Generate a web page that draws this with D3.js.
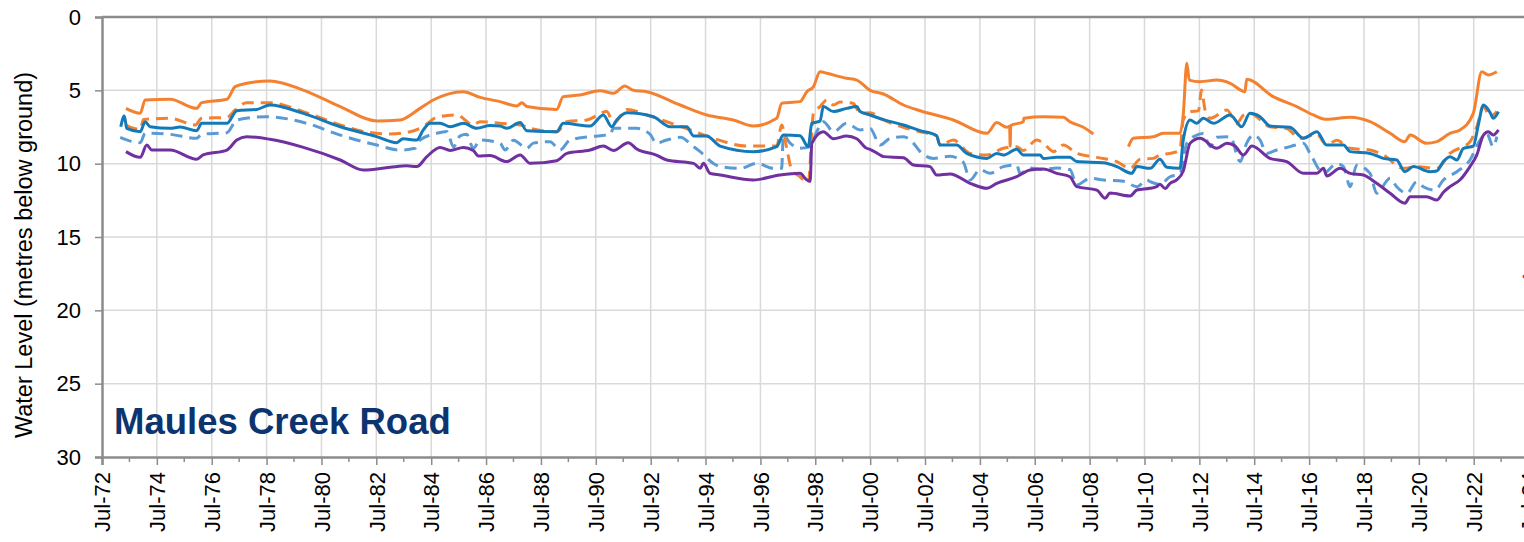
<!DOCTYPE html>
<html lang="en">
<head>
  <meta charset="UTF-8">
  <title>Maules Creek Road water levels</title>
  <script src="https://d3js.org/d3.v7.min.js"></script>
  <style>
    body { margin: 0; background: #fff; }
    svg { display: block; }
  </style>
</head>
<body>
  <svg id="chart"></svg>

  <script>
    // bore series, [decimal year, metres below ground]
    const orangeSolid = [
      [1973.37,6.23],[1973.89,6.57],[1974.07,5.66],[1974.98,5.61],[1975.95,6.23],[1976.13,5.84],
      [1977.05,5.61],[1977.35,4.75],[1977.77,4.52],[1978.62,4.36],[1979.83,4.98],[1981.18,6.11],
      [1982.51,7.09],[1983.36,7.02],[1984.09,6.23],[1984.57,5.66],[1985.66,5.09],[1986.28,5.48],
      [1987.01,5.77],[1987.62,6.07],[1987.80,5.84],[1987.98,6.1],[1989.07,6.3],[1989.31,5.43],
      [1989.92,5.32],[1990.65,5.02],[1991.14,5.2],[1991.56,4.7],[1991.86,5.0],[1992.35,5.09],
      [1993.57,6.0],[1994.54,6.68],[1995.51,7.02],[1996.24,7.43],[1997.09,6.91],[1997.27,5.89],
      [1997.45,5.84],[1997.94,5.77],[1998.19,5.09],[1998.43,4.75],[1998.67,3.73],[1998.92,3.84],
      [1999.64,4.18],[2000.01,4.3],[2000.49,5.0],[2000.98,5.25],[2001.71,6.0],[2002.32,6.39],
      [2003.53,7.02],[2004.75,7.93],[2005.11,7.2],[2005.48,7.52],[2005.58,7.45],[2005.60,8.8],
      [2005.62,7.4],[2006.08,7.14],[2006.10,6.9],[2006.81,6.8],[2007.54,6.84],[2007.78,7.14],
      [2008.27,7.52],[2008.63,7.98],[2009.2,null],[2009.91,8.84],[2010.09,8.27],[2010.82,8.16],
      [2011.18,7.93],[2011.79,7.93],[2011.91,6.68],[2012.04,3.16],[2012.13,4.3],[2012.52,4.41],
      [2013.13,4.3],[2013.62,4.52],[2014.16,5.09],[2014.22,4.25],[2015.19,5.43],[2016.05,6.11],
      [2016.65,6.68],[2017.14,6.98],[2017.99,6.84],[2018.72,7.14],[2019.45,7.93],[2019.99,8.5],
      [2020.18,8.05],[2020.78,8.61],[2021.15,8.5],[2021.63,7.93],[2022.0,7.7],[2022.48,6.57],
      [2022.79,3.73],[2023.03,3.95],[2023.34,3.73]
    ];

    const orangeDashed = [
      [1973.37,7.36],[1973.64,7.59],[1973.89,7.65],[1974.01,6.98],[1974.98,6.91],[1975.9,7.36],
      [1976.13,6.91],[1977.05,6.84],[1977.35,6.34],[1977.77,5.84],[1978.62,5.84],[1979.83,6.45],
      [1981.18,7.36],[1981.78,7.7],[1983.0,7.98],[1983.73,7.82],[1984.2,7.48],[1984.7,6.84],
      [1985.43,6.68],[1986.02,7.36],[1986.28,7.14],[1987.01,7.25],[1987.74,7.36],[1988.1,7.59],
      [1989.07,7.82],[1989.44,7.14],[1990.17,7.02],[1990.9,6.45],[1991.14,7.25],[1991.63,6.3],
      [1992.35,6.68],[1993.08,7.14],[1993.93,7.7],[1994.78,8.27],[1996.0,8.8],[1997.09,8.8],
      [1997.27,7.36],[1997.45,8.9],[1997.64,10.43],[1997.94,10.89],[1998.24,11.34],[1998.43,6.57],
      [1998.67,6.11],[1998.92,5.66],[1999.16,6.0],[1999.4,5.8],[1999.89,5.9],[2000.13,6.57],
      [2000.49,6.52],[2000.98,7.02],[2001.71,7.52],[2002.32,7.82],[2002.92,8.1],[2003.04,8.73],
      [2003.53,8.39],[2004.14,9.3],[2004.75,9.41],[2005.35,8.95],[2005.84,8.84],[2006.08,9.1],
      [2006.57,8.39],[2006.81,8.6],[2007.18,9.18],[2007.54,8.73],[2008.03,9.3],[2008.76,9.57],
      [2009.49,9.86],[2009.97,10.32],[2010.34,9.7],[2010.82,9.64],[2011.06,9.41],[2011.43,9.3],
      [2011.79,9.07],[2011.91,7.02],[2012.16,6.45],[2012.46,6.4],[2012.58,4.98],[2012.70,6.3],
      [2012.89,6.91],[2013.5,6.34],[2013.86,7.25],[2014.1,6.7],[2014.34,6.57],[2015.07,7.48],
      [2015.68,7.6],[2016.17,8.27],[2016.78,8.0],[2017.14,8.73],[2017.5,8.4],[2017.99,8.95],
      [2018.72,9.07],[2019.2,9.4],[2019.93,10.32],[2020.42,10.2],[2021.15,10.32],[2021.63,9.3],
      [2022.36,8.5],[2022.61,7.48],[2022.85,6.11],[2023.09,6.8],[2023.34,6.45]
    ];

    const blueSolid = [
      [1973.18,7.48],[1973.31,6.75],[1973.4,7.6],[1973.89,7.82],[1974.07,7.14],[1974.25,7.48],
      [1974.98,7.59],[1975.34,7.5],[1975.95,7.75],[1976.13,7.25],[1977.05,7.25],[1977.41,6.39],
      [1978.14,6.3],[1978.62,6.0],[1979.84,6.57],[1981.18,7.48],[1982.51,8.16],[1983.24,8.57],
      [1983.47,8.3],[1983.97,8.39],[1984.21,7.7],[1984.46,7.25],[1984.82,7.25],[1985.19,7.48],
      [1985.67,7.25],[1986.16,7.59],[1986.64,7.4],[1987.01,7.43],[1987.25,7.59],[1987.74,7.2],
      [1987.98,7.75],[1989.07,7.82],[1989.31,7.25],[1990.29,7.43],[1990.77,6.68],[1991.08,7.48],
      [1991.26,7.02],[1991.63,6.52],[1992.6,6.8],[1993.2,7.48],[1993.81,7.48],[1994.06,8.11],
      [1994.54,8.11],[1995.03,8.8],[1996.24,9.18],[1997.09,8.84],[1997.33,8.05],[1997.94,8.1],
      [1998.24,8.84],[1998.37,7.25],[1998.67,7.1],[1998.79,6.11],[1999.16,6.45],[1999.64,6.23],
      [2000.01,6.1],[2000.13,6.45],[2000.49,6.68],[2000.98,7.0],[2001.71,7.36],[2002.32,7.75],
      [2002.92,8.1],[2003.04,8.73],[2003.65,8.73],[2004.02,9.3],[2004.75,9.64],[2005.11,9.3],
      [2005.35,9.41],[2005.84,9.02],[2006.08,9.41],[2006.69,9.41],[2006.81,9.64],[2007.3,9.57],
      [2007.78,9.57],[2008.03,9.86],[2009.0,9.93],[2009.49,10.2],[2010.03,10.66],[2010.22,10.2],
      [2010.7,10.32],[2011.06,9.7],[2011.31,10.25],[2011.79,10.32],[2011.91,8.39],[2012.16,7.02],
      [2012.4,7.25],[2012.64,6.9],[2013.01,7.25],[2013.62,6.68],[2014.04,7.48],[2014.34,6.57],
      [2014.71,6.8],[2015.07,7.43],[2015.8,7.52],[2016.29,8.27],[2016.78,7.82],[2017.14,8.73],
      [2017.75,8.73],[2017.99,9.18],[2018.72,9.3],[2019.2,9.64],[2019.69,9.75],[2019.99,10.55],
      [2020.3,10.2],[2020.9,10.55],[2021.15,10.5],[2021.39,9.86],[2021.63,9.52],[2021.88,9.75],
      [2022.12,8.95],[2022.48,8.8],[2022.67,7.3],[2022.85,6.0],[2023.09,6.5],[2023.21,6.91],
      [2023.4,6.45]
    ];

    const lightBlueDashed = [
      [1973.16,8.2],[1973.89,8.57],[1974.07,7.93],[1974.98,8.0],[1975.95,8.27],[1976.13,8.0],
      [1977.05,7.89],[1977.41,7.02],[1978.5,6.8],[1979.96,7.25],[1981.18,8.05],[1982.51,8.73],
      [1983.36,9.07],[1983.91,8.95],[1984.09,8.4],[1984.7,7.93],[1985.06,7.8],[1985.31,8.84],
      [1985.55,8.1],[1985.79,8.0],[1986.03,8.95],[1986.28,8.39],[1987.01,8.61],[1987.19,9.07],
      [1987.49,8.4],[1987.98,8.95],[1988.22,8.6],[1988.83,8.5],[1989.19,9.07],[1989.56,8.39],
      [1990.29,8.16],[1991.02,8.0],[1991.14,7.59],[1991.99,7.59],[1992.48,8.0],[1992.7,8.61],
      [1993.08,8.39],[1993.57,8.2],[1994.06,8.84],[1994.3,9.18],[1994.78,9.98],[1995.03,10.2],
      [1995.76,10.32],[1996.36,9.98],[1996.97,10.32],[1997.27,10.32],[1997.33,8.05],[1997.58,8.6],
      [1997.94,8.95],[1998.31,8.84],[1998.55,7.82],[1998.79,7.14],[1999.16,7.82],[1999.64,7.25],
      [2000.13,7.7],[2000.49,7.59],[2000.86,8.73],[2001.22,8.27],[2001.71,8.16],[2002.07,8.6],
      [2002.32,9.18],[2002.8,9.64],[2003.41,9.5],[2003.89,9.9],[2004.14,11.11],[2004.5,10.4],
      [2004.87,10.66],[2005.35,10.2],[2005.84,10.1],[2005.96,10.66],[2006.33,10.3],[2006.81,10.4],
      [2007.3,10.3],[2007.78,10.4],[2008.03,11.45],[2008.51,11.0],[2009.0,11.11],[2009.73,11.2],
      [2010.22,11.57],[2010.58,11.1],[2010.7,11.23],[2011.06,11.4],[2011.43,10.89],[2011.79,10.7],
      [2012.04,8.61],[2012.4,8.05],[2012.64,7.95],[2012.89,8.84],[2013.13,8.2],[2013.62,8.16],
      [2013.98,9.86],[2014.22,8.6],[2014.47,8.05],[2014.71,8.4],[2014.95,9.3],[2015.32,9.07],
      [2015.8,8.84],[2016.29,8.61],[2016.53,9.3],[2017.02,10.66],[2017.5,10.0],[2017.75,10.2],
      [2017.99,11.57],[2018.23,10.1],[2018.72,10.66],[2018.96,12.02],[2019.45,11.0],[2019.69,11.57],
      [2020.06,12.02],[2020.42,11.23],[2020.66,11.57],[2021.09,11.8],[2021.39,11.11],[2021.88,10.55],
      [2022.36,9.75],[2022.73,8.39],[2022.97,7.93],[2023.21,8.84],[2023.34,8.16]
    ];

    const purpleSolid = [
      [1973.37,9.18],[1973.89,9.57],[1974.13,8.73],[1974.31,9.07],[1974.98,9.07],[1975.95,9.7],
      [1976.19,9.4],[1977.05,9.07],[1977.41,8.39],[1977.77,8.16],[1978.62,8.34],[1979.84,8.89],
      [1981.18,9.75],[1982.02,10.43],[1983.0,10.25],[1983.61,10.15],[1983.97,10.2],[1984.34,9.52],
      [1984.82,8.89],[1985.19,9.1],[1985.67,8.89],[1986.03,9.1],[1986.22,9.48],[1986.64,9.45],
      [1987.25,9.86],[1987.74,9.41],[1988.1,9.98],[1989.07,9.8],[1989.44,9.3],[1990.29,9.07],
      [1990.77,8.8],[1991.14,9.1],[1991.68,8.57],[1991.99,9.0],[1992.7,9.41],[1993.08,9.75],
      [1994.06,9.98],[1994.3,10.32],[1994.42,9.98],[1994.66,10.66],[1995.03,10.77],[1996.24,11.11],
      [1997.21,10.77],[1997.94,10.66],[1998.19,11.11],[1998.31,11.2],[1998.37,8.61],[1998.79,7.82],
      [1999.16,8.3],[1999.64,8.11],[2000.01,8.3],[2000.37,8.95],[2000.49,9.02],[2000.86,9.41],
      [2000.98,9.52],[2001.71,9.6],[2002.07,10.09],[2002.68,10.2],[2002.92,10.77],[2003.41,10.7],
      [2004.14,11.34],[2004.75,11.68],[2005.11,11.34],[2005.84,10.89],[2006.33,10.43],[2006.81,10.36],
      [2007.3,10.66],[2007.78,10.89],[2008.03,11.57],[2008.76,11.8],[2009.06,12.36],[2009.24,12.0],
      [2009.97,12.2],[2010.22,11.8],[2010.7,11.68],[2010.94,11.57],[2011.06,11.4],[2011.25,11.7],
      [2011.43,11.34],[2011.67,11.11],[2011.91,10.5],[2012.16,8.61],[2012.52,8.27],[2013.13,8.95],
      [2013.5,8.61],[2013.8,8.8],[2014.1,9.41],[2014.41,8.8],[2015.07,9.64],[2015.68,9.86],
      [2016.29,10.66],[2016.78,10.66],[2017.02,10.32],[2017.14,10.84],[2017.63,10.32],[2017.99,10.66],
      [2018.47,10.77],[2018.96,11.34],[2019.45,12.02],[2019.99,12.7],[2020.18,12.25],[2020.78,12.25],
      [2021.15,12.48],[2021.39,11.95],[2021.63,11.57],[2022.0,11.1],[2022.36,10.2],[2022.61,9.4],
      [2022.85,8.05],[2023.03,7.82],[2023.21,8.05],[2023.4,7.7]
    ];

    const redPoint = [[2024.35,17.7]];

    const yTicks = [0, 5, 10, 15, 20, 25, 30];
    const tickYears = d3.range(1972, 2025, 2);
    const minorYears = d3.range(1972, 2025, 1);

    const width = 1524;
    const height = 542;
    const margin = { top: 17, left: 102 };
    const plotH = 440;
    const plotW = 1426.6;

    // decimal year -> Date
    function toDate(y) {
      const yr = Math.floor(y);
      const start = new Date(yr, 0, 1);
      const end = new Date(yr + 1, 0, 1);
      return new Date(start.getTime() + (y - yr) * (end - start));
    }

    const svg = d3.select("#chart")
      .attr("width", width)
      .attr("height", height)
      .style("font-family", "'Liberation Sans', Arial, sans-serif");

    const x = d3.scaleTime()
      .domain([new Date(1972, 6, 1), new Date(2024, 6, 1)])
      .range([margin.left, margin.left + plotW]);

    const y = d3.scaleLinear()
      .domain([0, 30])
      .range([margin.top, margin.top + plotH]);

    // grid
    svg.append("g")
      .selectAll("line")
      .data(yTicks.slice(1, -1))
      .join("line")
      .attr("x1", margin.left).attr("x2", margin.left + plotW)
      .attr("y1", d => y(d)).attr("y2", d => y(d))
      .attr("stroke", "#d9d9d9").attr("stroke-width", 1.5);

    svg.append("g")
      .selectAll("line")
      .data(tickYears.slice(1))
      .join("line")
      .attr("x1", d => x(new Date(d, 6, 1))).attr("x2", d => x(new Date(d, 6, 1)))
      .attr("y1", margin.top).attr("y2", margin.top + plotH)
      .attr("stroke", "#d9d9d9").attr("stroke-width", 1.5);

    // series
    const line = d3.line()
      .defined(d => d[1] != null)
      .curve(d3.curveMonotoneX)
      .x(d => x(toDate(d[0])))
      .y(d => y(d[1]));

    const series = [
      { data: lightBlueDashed, color: "#5b9bd5", dash: "12,7" },
      { data: orangeDashed, color: "#f4812f", dash: "12,7" },
      { data: purpleSolid, color: "#7030a0", dash: null },
      { data: blueSolid, color: "#1479b8", dash: null },
      { data: orangeSolid, color: "#f4812f", dash: null }
    ];

    svg.append("g")
      .selectAll("path")
      .data(series)
      .join("path")
      .attr("d", d => line(d.data))
      .attr("fill", "none")
      .attr("stroke", d => d.color)
      .attr("stroke-width", 3)
      .attr("stroke-dasharray", d => d.dash)
      .attr("stroke-linejoin", "round");

    svg.append("g")
      .selectAll("circle")
      .data(redPoint)
      .join("circle")
      .attr("cx", d => x(toDate(d[0])))
      .attr("cy", d => y(d[1]))
      .attr("r", 2)
      .attr("fill", "#e03020");

    // frame and axes
    const axisColor = "#8c8c8c";
    svg.append("line")
      .attr("x1", margin.left).attr("x2", margin.left + plotW)
      .attr("y1", margin.top).attr("y2", margin.top)
      .attr("stroke", axisColor).attr("stroke-width", 2.5);
    svg.append("line")
      .attr("x1", margin.left + plotW).attr("x2", margin.left + plotW)
      .attr("y1", margin.top).attr("y2", margin.top + plotH)
      .attr("stroke", axisColor).attr("stroke-width", 2.5);

    const yAxis = svg.append("g")
      .attr("transform", `translate(${margin.left},0)`)
      .call(d3.axisLeft(y).tickValues(yTicks).tickSize(7).tickPadding(14).tickFormat(d3.format("d")));
    yAxis.select(".domain").attr("stroke", axisColor).attr("stroke-width", 2.5);
    yAxis.selectAll(".tick line").attr("stroke", axisColor).attr("stroke-width", 1.5);
    yAxis.selectAll("text")
      .attr("font-size", 22)
      .attr("fill", "#000")
      .attr("font-family", "'Liberation Sans', Arial, sans-serif");

    const xAxis = svg.append("g")
      .attr("transform", `translate(0,${margin.top + plotH})`)
      .call(d3.axisBottom(x)
        .tickValues(tickYears.map(d => new Date(d, 6, 1)))
        .tickSize(8)
        .tickFormat(d3.timeFormat("%b-%y")));
    xAxis.select(".domain").attr("stroke", axisColor).attr("stroke-width", 2.5);
    xAxis.selectAll(".tick line").attr("stroke", axisColor).attr("stroke-width", 1.5);
    xAxis.selectAll("text")
      .attr("font-size", 22)
      .attr("fill", "#000")
      .attr("font-family", "'Liberation Sans', Arial, sans-serif")
      .attr("transform", "rotate(-90)")
      .attr("text-anchor", "end")
      .attr("x", -15)
      .attr("y", 0)
      .attr("dy", "0.35em");

    // minor yearly ticks
    svg.append("g")
      .selectAll("line")
      .data(minorYears.filter(d => d % 2 === 1))
      .join("line")
      .attr("x1", d => x(new Date(d, 6, 1))).attr("x2", d => x(new Date(d, 6, 1)))
      .attr("y1", margin.top + plotH).attr("y2", margin.top + plotH + 5)
      .attr("stroke", axisColor).attr("stroke-width", 1.5);

    svg.append("text")
      .attr("transform", `translate(32,${margin.top + plotH / 2 + 18}) rotate(-90)`)
      .attr("text-anchor", "middle")
      .attr("font-size", 23.5)
      .attr("fill", "#000")
      .text("Water Level (metres below ground)");

    svg.append("text")
      .attr("x", 114)
      .attr("y", 434)
      .attr("font-size", 36.5)
      .attr("font-weight", "bold")
      .attr("fill", "#0c3470")
      .text("Maules Creek Road");
  </script>
</body>
</html>
